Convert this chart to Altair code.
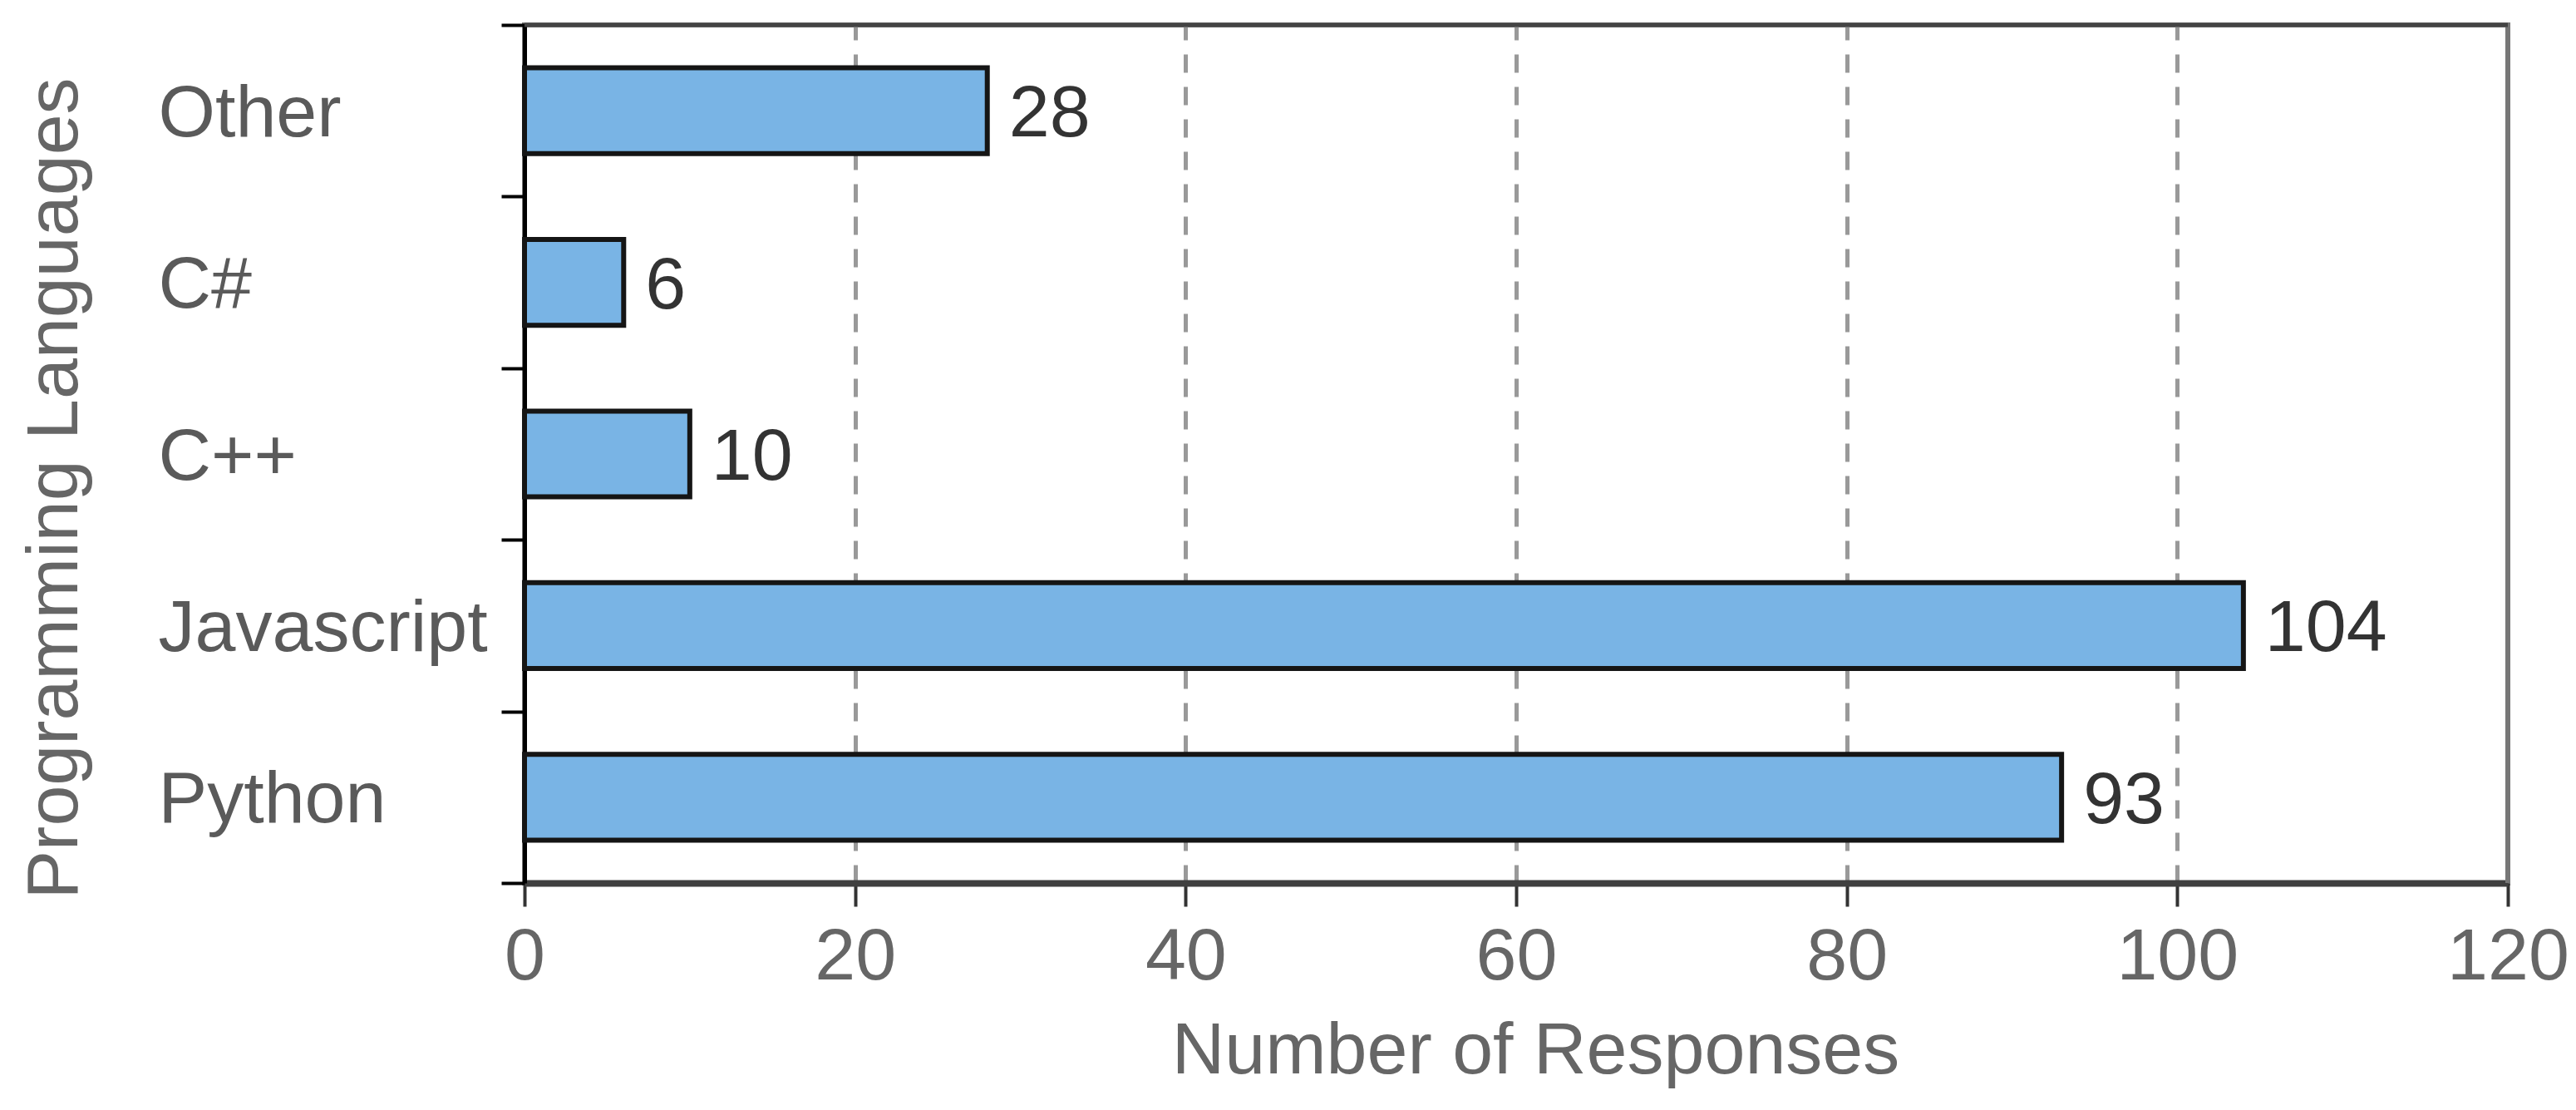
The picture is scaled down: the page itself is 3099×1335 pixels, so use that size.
import altair as alt
import pandas as pd

languages = ["Other", "C#", "C++", "Javascript", "Python"]
responses = [28, 6, 10, 104, 93]
x_ticks = [0, 20, 40, 60, 80, 100, 120]

df = pd.DataFrame({"language": languages, "responses": responses})

FONT = "Liberation Sans"
FS = 88

x_enc = alt.X(
    "responses:Q",
    scale=alt.Scale(domain=[0, 120], nice=False, zero=True),
    axis=alt.Axis(
        values=x_ticks,
        title="Number of Responses",
        titleFont=FONT,
        titleFontSize=FS,
        titleFontWeight="normal",
        titleColor="#666666",
        titleBaseline="alphabetic",
        titleX=1216,
        titleY=228,
        titleAlign="center",
        labelFont=FONT,
        labelFontSize=FS,
        labelColor="#666666",
        labelPadding=17,
        labelFlush=False,
        labelOverlap=False,
        domainColor="#404040",
        domainWidth=8,
        tickColor="#333333",
        tickWidth=4,
        tickSize=28,
        grid=True,
        gridColor="#999999",
        gridWidth=5,
        gridDash=[22, 17],
    ),
)

y_enc = alt.Y(
    "language:N",
    sort=languages,
    scale=alt.Scale(paddingInner=0, paddingOuter=0),
    axis=alt.Axis(
        title="Programming Languages",
        titleFont=FONT,
        titleFontSize=FS,
        titleFontWeight="normal",
        titleColor="#666666",
        titleBaseline="alphabetic",
        titleAngle=270,
        titleX=-539,
        titleY=557,
        titleAlign="center",
        labelFont=FONT,
        labelFontSize=FS,
        labelColor="#5a5a5a",
        labelAlign="left",
        labelPadding=413,
        labelLimit=0,
        labelBaseline="alphabetic",
        labelOffset=30,
        labelOverlap=False,
        domainColor="#000000",
        domainWidth=5,
        tickColor="#000000",
        tickWidth=4,
        tickSize=28,
        tickBand="extent",
        grid=False,
    ),
)

base = alt.Chart(df)

bars = base.mark_bar(
    fill="#79b4e5", stroke="#151515", strokeWidth=6, height={"band": 0.5}
).encode(x=x_enc, y=y_enc)

labels = base.mark_text(
    align="left",
    baseline="alphabetic",
    dx=26,
    dy=31,
    font=FONT,
    fontSize=FS,
    color="#333333",
).encode(x="responses:Q", y=alt.Y("language:N", sort=languages), text="responses:Q")

frame = pd.DataFrame({"edge": ["frame"]})

top_border = alt.Chart(frame).mark_rule(color="#444444", strokeWidth=5).encode(
    y=alt.value(0)
)
right_border = alt.Chart(frame).mark_rule(color="#777777", strokeWidth=6).encode(
    x=alt.value(2386)
)

chart = (
    alt.layer(bars, labels, right_border, top_border)
    .properties(
        width=2386,
        height=1032,
        autosize=alt.AutoSizeParams(type="none"),
        padding={"left": 623, "top": 22, "right": 74, "bottom": 265},
        background="white",
    )
    .configure_view(stroke="#777777", strokeWidth=6)
)

chart.save("out.html", embed_options={"renderer": "svg", "actions": False})
